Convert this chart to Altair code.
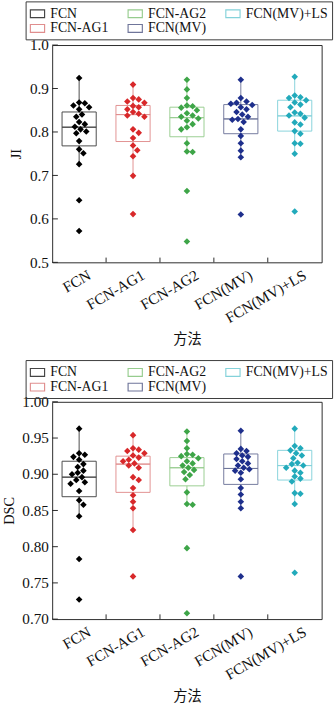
import altair as alt
import pandas as pd

methods = ["FCN", "FCN-AG1", "FCN-AG2", "FCN(MV)", "FCN(MV)+LS"]
point_colors = ["#000000", "#d8282a", "#3ea548", "#1e2f8c", "#22aabb"]
box_colors = ["#444444", "#e08e8e", "#96cc8e", "#6f759a", "#84d2da"]

# ---- JI values (per method) ----
ji_fcn = [0.924, 0.868, 0.866, 0.861, 0.857, 0.852, 0.840, 0.835, 0.823, 0.818,
          0.812, 0.806, 0.801, 0.797, 0.779, 0.760, 0.751, 0.726, 0.643, 0.572]
ji_ag1 = [0.909, 0.878, 0.875, 0.870, 0.867, 0.860, 0.857, 0.852, 0.846, 0.842,
          0.838, 0.835, 0.806, 0.798, 0.786, 0.769, 0.758, 0.744, 0.699, 0.611]
ji_ag2 = [0.920, 0.898, 0.878, 0.861, 0.859, 0.856, 0.850, 0.843, 0.838, 0.835,
          0.831, 0.826, 0.818, 0.811, 0.806, 0.774, 0.755, 0.754, 0.664, 0.548]
ji_mv = [0.920, 0.878, 0.870, 0.867, 0.865, 0.862, 0.857, 0.852, 0.846, 0.840,
         0.835, 0.830, 0.828, 0.823, 0.806, 0.791, 0.774, 0.757, 0.742, 0.610]
ji_mvls = [0.927, 0.884, 0.880, 0.878, 0.873, 0.868, 0.863, 0.857, 0.845, 0.842,
           0.838, 0.833, 0.822, 0.817, 0.802, 0.796, 0.774, 0.773, 0.750, 0.617]
ji_q1 = [0.768, 0.778, 0.789, 0.796, 0.802]
ji_med = [0.811, 0.840, 0.833, 0.830, 0.837]
ji_q3 = [0.846, 0.861, 0.857, 0.863, 0.873]
ji_wlo = [0.726, 0.699, 0.754, 0.742, 0.750]
ji_whi = [0.924, 0.909, 0.920, 0.920, 0.927]
ji_ticks = [0.5, 0.6, 0.7, 0.8, 0.9, 1.0]

# ---- DSC values (per method) ----
dsc_fcn = [0.963, 0.929, 0.927, 0.924, 0.920, 0.914, 0.910, 0.905, 0.902, 0.900,
           0.896, 0.892, 0.889, 0.887, 0.877, 0.864, 0.858, 0.842, 0.783, 0.727]
dsc_ag1 = [0.954, 0.936, 0.934, 0.932, 0.929, 0.926, 0.923, 0.920, 0.918, 0.915,
           0.912, 0.909, 0.896, 0.892, 0.881, 0.871, 0.862, 0.853, 0.823, 0.759]
dsc_ag2 = [0.959, 0.946, 0.936, 0.928, 0.927, 0.925, 0.922, 0.918, 0.915, 0.912,
           0.909, 0.906, 0.903, 0.899, 0.893, 0.875, 0.859, 0.858, 0.798, 0.708]
dsc_mv = [0.960, 0.935, 0.932, 0.929, 0.926, 0.924, 0.921, 0.918, 0.915, 0.912,
          0.909, 0.907, 0.905, 0.902, 0.893, 0.881, 0.872, 0.862, 0.853, 0.759]
dsc_mvls = [0.963, 0.939, 0.936, 0.933, 0.929, 0.926, 0.922, 0.916, 0.914, 0.912,
            0.909, 0.905, 0.902, 0.897, 0.894, 0.890, 0.874, 0.873, 0.859, 0.764]
dsc_q1 = [0.869, 0.875, 0.884, 0.886, 0.892]
dsc_med = [0.896, 0.914, 0.909, 0.908, 0.912]
dsc_q3 = [0.918, 0.925, 0.923, 0.928, 0.933]
dsc_wlo = [0.842, 0.823, 0.858, 0.853, 0.859]
dsc_whi = [0.963, 0.954, 0.959, 0.960, 0.963]
dsc_ticks = [0.70, 0.75, 0.80, 0.85, 0.90, 0.95, 1.00]

W, H = 284, 229
BAND = W / len(methods)
SERIF = "Liberation Serif"
CJK = "Noto Sans CJK SC"


def swarm(vals, ppu, d=6.0, step=1.5):
    placed, offs = [], []
    cands = [0.0]
    for i in range(1, 30):
        cands += [i * step, -i * step]
    for v in vals:
        y = v * ppu
        chosen = cands[-1]
        for c in cands:
            if all((c - po) ** 2 + (y - py) ** 2 >= d * d for po, py in placed):
                chosen = c
                break
        placed.append((chosen, y))
        offs.append(chosen)
    return offs


def panel(series, q1, med, q3, wlo, whi, ticks, domain, fmt, ytitle, legend_y):
    ppu = H / (domain[1] - domain[0])
    rows = []
    for m, pc, vals in zip(methods, point_colors, series):
        for v, o in zip(vals, swarm(vals, ppu)):
            rows.append({"method": m, "pc": pc, "value": v, "off": o})
    pts_df = pd.DataFrame(rows)
    st_df = pd.DataFrame({"method": methods, "grp": methods, "q1": q1, "med": med,
                          "q3": q3, "wlo": wlo, "whi": whi})
    yt_df = pd.DataFrame({"t": ticks})
    xt_df = pd.DataFrame({"method": methods[1:]})

    xscale = alt.Scale(domain=methods, paddingInner=0, paddingOuter=0)
    yscale = alt.Scale(domain=domain, nice=False, zero=False)
    xax = alt.Axis(title="方法", labelAngle=330, labelAlign="right", labelBaseline="top",
                   labelFont=SERIF, labelFontSize=16, labelColor="#111", labelOffset=7,
                   labelPadding=5, ticks=False, tickSize=0, domain=False,
                   titleFont=CJK, titleFontSize=15, titleFontWeight="normal",
                   titleColor="#111", titlePadding=7, labelLimit=200)
    yax = alt.Axis(title=ytitle, values=ticks, format=fmt, labelFont=SERIF,
                   labelFontSize=16, labelColor="#111", ticks=False, tickSize=0,
                   domain=False, grid=False, labelPadding=4,
                   titleFont=SERIF, titleFontSize=15, titleFontWeight="normal",
                   titleColor="#111", titlePadding=6)
    leg = alt.Legend(title=None, orient="none", legendX=-28, legendY=legend_y,
                     columns=3, symbolType="M-1,-0.55H1V0.55H-1Z", symbolSize=225,
                     symbolStrokeWidth=1.2, symbolFillColor="white",
                     labelFont=SERIF, labelFontSize=14.5, labelColor="#111",
                     labelOffset=5, columnPadding=17, rowPadding=0, padding=4,
                     strokeColor="#333", gridAlign="each", labelLimit=200)
    sscale = alt.Scale(domain=methods, range=box_colors)
    X = alt.X("method:N", scale=xscale, axis=xax, sort=methods)
    S = alt.Stroke("grp:N", scale=sscale, legend=leg)

    wlow = alt.Chart(st_df).mark_rule(strokeWidth=1).encode(
        x=X, y=alt.Y("wlo:Q", scale=yscale, axis=yax), y2="q1:Q", stroke=S)
    whigh = alt.Chart(st_df).mark_rule(strokeWidth=1).encode(
        x=X, y=alt.Y("q3:Q", scale=yscale, axis=yax), y2="whi:Q", stroke=S)
    box = alt.Chart(st_df).mark_bar(size=36, filled=False, strokeWidth=1).encode(
        x=X, y=alt.Y("q1:Q", scale=yscale, axis=yax), y2="q3:Q", stroke=S)
    medl = alt.Chart(st_df).mark_bar(size=36, filled=False, strokeWidth=1).encode(
        x=X, y=alt.Y("med:Q", scale=yscale, axis=yax), y2="med:Q", stroke=S)
    pts = alt.Chart(pts_df).mark_point(shape="diamond", filled=True, size=48,
                                       opacity=1).encode(
        x=X,
        xOffset=alt.XOffset("off:Q", scale=alt.Scale(domain=[-BAND / 2, BAND / 2])),
        y=alt.Y("value:Q", scale=yscale, axis=yax),
        color=alt.Color("pc:N", scale=None))
    ytk = alt.Chart(yt_df).mark_rule(color="#222", strokeWidth=1).encode(
        y=alt.Y("t:Q", scale=yscale, axis=yax), x=alt.value(0), x2=alt.value(6))
    xtk = alt.Chart(xt_df).mark_rule(color="#222", strokeWidth=1).encode(
        x=alt.X("method:N", scale=xscale, axis=xax, sort=methods, bandPosition=0),
        y=alt.value(H), y2=alt.value(H - 5))
    return alt.layer(wlow, whigh, box, medl, pts, ytk, xtk).properties(width=W, height=H)


top = panel([ji_fcn, ji_ag1, ji_ag2, ji_mv, ji_mvls], ji_q1, ji_med, ji_q3, ji_wlo,
            ji_whi, ji_ticks, [0.5, 1.0], ".1f", "JI", -46)
bot = panel([dsc_fcn, dsc_ag1, dsc_ag2, dsc_mv, dsc_mvls], dsc_q1, dsc_med, dsc_q3,
            dsc_wlo, dsc_whi, dsc_ticks, [0.70, 1.00], ".2f", "DSC", -44)

chart = alt.vconcat(top, bot, spacing=13).resolve_scale(
    x="independent", y="independent", stroke="independent"
).resolve_legend(stroke="independent").configure_view(
    stroke="#222", strokeWidth=1
).properties(padding={"left": 1, "top": -19, "right": 1, "bottom": 1}, background="white")

chart.save("out.html", embed_options={"renderer": "svg", "actions": False})
